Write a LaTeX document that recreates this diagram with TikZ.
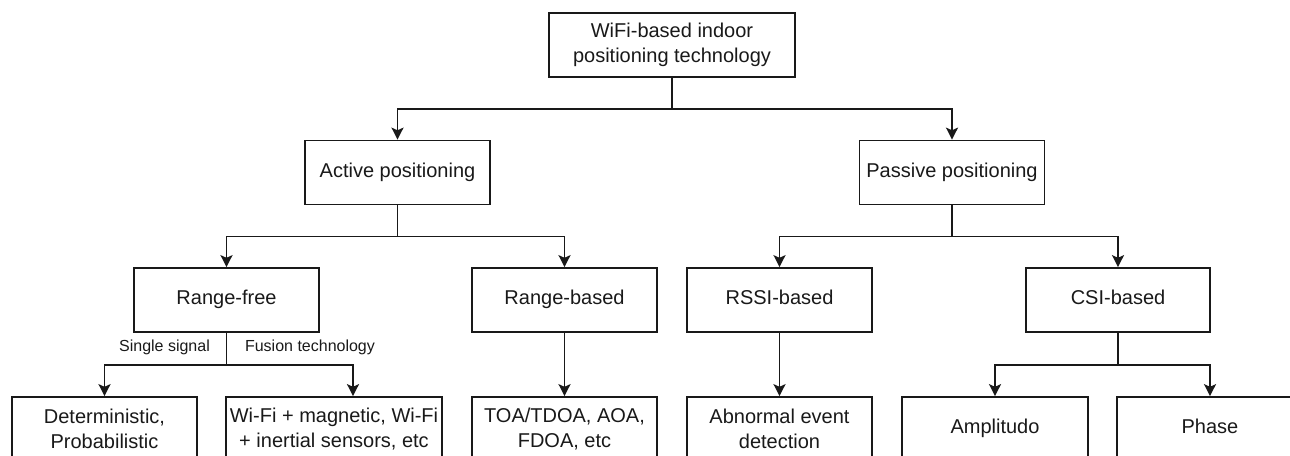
\documentclass[tikz,border=0pt]{standalone}
\usepackage{fontspec}
\setmainfont{Liberation Sans}
\usetikzlibrary{arrows.meta}
\begin{document}
\begin{tikzpicture}[x=0.75pt,y=-0.75pt,
  box/.style={draw=black!90, line width=1.3pt, minimum width=#1*0.75pt, minimum height=64*0.75pt,
    align=center, font=\fontsize{15pt}{18.75pt}\selectfont, text=black!90, inner sep=0pt},
  box/.default=185,
  one/.style={text height=0.72em, text depth=0pt},
  conn/.style={draw=black!90, line width=1.3pt},
  arr/.style={conn, -{Stealth[length=9pt, width=9pt, inset=2pt]}},
  lab/.style={font=\fontsize{12pt}{14pt}\selectfont, text=black!90, inner sep=0pt}]
\useasboundingbox (0,0) rectangle (1290,455);
\clip (0,0) rectangle (1290,455);

% level 1
\node[box=246] (top) at (672,45) {WiFi-based indoor\\positioning technology};
% level 2
\node[box, one] (active) at (397.5,172.5) {Active positioning};
\node[box, one] (passive) at (952,172.5) {Passive positioning};
% level 3
\node[box, one] (rf) at (226.5,300) {Range-free};
\node[box, one] (rb) at (564.5,300) {Range-based};
\node[box, one] (rssi) at (779.5,300) {RSSI-based};
\node[box=184, one] (csi) at (1118,300) {CSI-based};
% level 4
\node[box] (det) at (104.5,429) {Deterministic,\\Probabilistic};
\node[box=216] (wifi) at (334,429) {Wi-Fi + magnetic, Wi-Fi\\+ inertial sensors, etc};
\node[box] (toa) at (564.5,429) {TOA/TDOA, AOA,\\FDOA, etc};
\node[box] (abn) at (779.5,429) {Abnormal event\\detection};
\node[box=186, one] (amp) at (995,429) {Amplitudo};
\node[box=186, one] (phase) at (1210,429) {Phase};

% connectors
\draw[arr] (top.south) -- ++(0,31) -| (active.north);
\draw[arr] (top.south) -- ++(0,31) -| (passive.north);
\draw[arr] (active.south) -- ++(0,31) -| (rf.north);
\draw[arr] (active.south) -- ++(0,31) -| (rb.north);
\draw[arr] (passive.south) -- ++(0,31) -| (rssi.north);
\draw[arr] (passive.south) -- ++(0,31) -| (csi.north);
\draw[arr] (rf.south) -- ++(0,32) -| (det.north);
\draw[arr] (rf.south) -- ++(0,32) -| ([xshift=19*0.75pt]wifi.north);
\draw[arr] (rb.south) -- (toa.north);
\draw[arr] (rssi.south) -- (abn.north);
\draw[arr] (csi.south) -- ++(0,32) -| (amp.north);
\draw[arr] (csi.south) -- ++(0,32) -| (phase.north);

% edge labels
\node[lab] (l1) at (164.5,347) {Single signal};
\node[lab] (l2) at (310,347) {Fusion technology};
\end{tikzpicture}
\end{document}
